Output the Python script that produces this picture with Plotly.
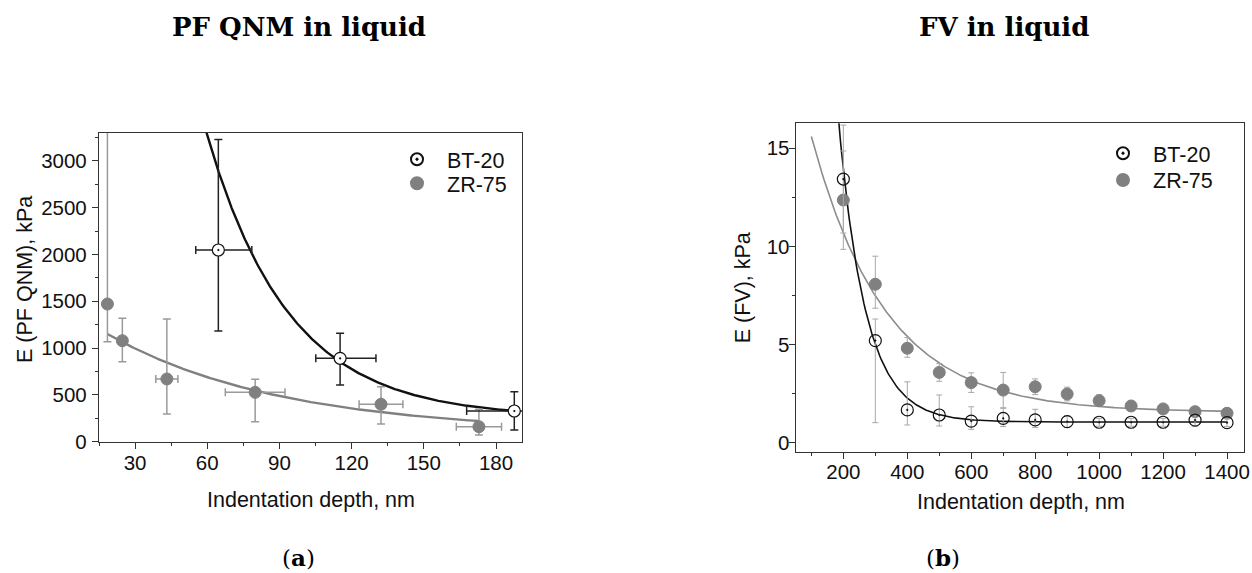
import numpy as np
import plotly.graph_objects as go

W, H = 1252, 573

# ---------------- Panel (a): PF QNM in liquid ----------------
a_bt_x = [64.6, 115.2, 187.6]
a_bt_y = [2048, 891, 328]
a_bt_yerr_plus = [1181, 267, 206]
a_bt_yerr_minus = [864, 285, 203]
a_bt_xerr_plus = [13.9, 14.9, 6.5]
a_bt_xerr_minus = [9.4, 10.1, 19.8]

a_zr_x = [18.5, 24.7, 43.2, 79.9, 132.2, 172.9]
a_zr_y = [1471, 1079, 670, 527, 400, 160]
a_zr_yerr_plus = [1840, 239, 641, 140, 188, 186]
a_zr_yerr_minus = [403, 224, 374, 313, 211, 88]
a_zr_xerr = [0, 0, 4.6, 12.4, 9.1, 9.4]

# exponential decay fits y = y0 + A*exp(-x/t)
a_bt_fit = dict(y0=258, A=17618, t=34.0, x0=55, x1=187.6)
a_zr_fit = dict(y0=97, A=1363, t=72.0, x0=18.5, x1=172.6)

# ---------------- Panel (b): FV in liquid ----------------
b_x = [200, 300, 400, 500, 600, 700, 800, 900, 1000, 1100, 1200, 1300, 1400]
b_bt_y = [13.43, 5.2, 1.67, 1.41, 1.10, 1.24, 1.16, 1.07, 1.04, 1.04, 1.04, 1.15, 1.02]
b_bt_yerr_plus = [2.75, 1.1, 1.43, 1.02, 0.73, 0.51, 0.54, 0.3, 0.2, 0.2, 0.2, 0.3, 0.2]
b_bt_yerr_minus = [2.75, 4.18, 0.77, 0.56, 0.42, 0.42, 0.39, 0.3, 0.2, 0.2, 0.2, 0.3, 0.2]
b_zr_y = [12.36, 8.07, 4.81, 3.58, 3.06, 2.68, 2.85, 2.48, 2.14, 1.87, 1.72, 1.58, 1.50]
b_zr_yerr_plus = [2.5, 1.43, 0.54, 0.45, 0.5, 0.9, 0.4, 0.35, 0.3, 0.25, 0.2, 0.2, 0.2]
b_zr_yerr_minus = [2.51, 1.22, 0.46, 0.45, 0.5, 0.9, 0.4, 0.35, 0.3, 0.25, 0.2, 0.2, 0.2]

b_bt_fit = dict(y0=1.05, A=135.4, t=85.0, x0=170, x1=1400)
b_zr_fit = dict(y0=1.55, A=21.62, t=232.0, x0=100, x1=1400)

series_names = ["BT-20", "ZR-75"]
panel_titles = ["PF QNM in liquid", "FV in liquid"]
panel_labels = ["a", "b"]
x_title = "Indentation depth, nm"
y_titles = ["E (PF QNM), kPa", "E (FV), kPa"]


def fit_curve(p, n=300):
    x = np.linspace(p["x0"], p["x1"], n)
    return x, p["y0"] + p["A"] * np.exp(-x / p["t"])


def px_x(p):
    return p / W


def px_y(p):
    return 1 - p / H


BLACK = "#111111"
GRAY = "#808080"
LGRAY = "#a8a8a8"
AXIS = "#333333"
SANS = "Liberation Sans, Arial, sans-serif"
SERIF = "Palatino Linotype, DejaVu Serif, serif"
TICKSIZE = 20.5

fig = go.Figure()

# ----- panel a -----
x, y = fit_curve(a_bt_fit)
fig.add_trace(go.Scatter(x=x, y=y, mode="lines", line=dict(color=BLACK, width=2.4),
                         showlegend=False, xaxis="x", yaxis="y", hoverinfo="skip"))
x, y = fit_curve(a_zr_fit)
fig.add_trace(go.Scatter(x=x, y=y, mode="lines", line=dict(color=GRAY, width=2.4),
                         showlegend=False, xaxis="x", yaxis="y", hoverinfo="skip"))

fig.add_trace(go.Scatter(
    x=a_zr_x, y=a_zr_y, mode="markers", name=series_names[1],
    marker=dict(symbol="circle", size=12, color=GRAY, line=dict(color=GRAY, width=1)),
    error_y=dict(type="data", symmetric=False, array=a_zr_yerr_plus, arrayminus=a_zr_yerr_minus,
                 color="#9a9a9a", thickness=1.5, width=4),
    error_x=dict(type="data", array=a_zr_xerr, color="#9a9a9a", thickness=1.5, width=4),
    xaxis="x", yaxis="y", legend="legend2"))
fig.add_trace(go.Scatter(
    x=a_bt_x, y=a_bt_y, mode="markers", name=series_names[0],
    marker=dict(symbol="circle-dot", size=12, color="white", line=dict(color=BLACK, width=1.2)),
    error_y=dict(type="data", symmetric=False, array=a_bt_yerr_plus, arrayminus=a_bt_yerr_minus,
                 color="#222222", thickness=1.5, width=4),
    error_x=dict(type="data", symmetric=False, array=a_bt_xerr_plus, arrayminus=a_bt_xerr_minus,
                 color="#222222", thickness=1.5, width=4),
    cliponaxis=False,
    xaxis="x", yaxis="y", legend="legend"))

# ----- panel b -----
x, y = fit_curve(b_zr_fit)
fig.add_trace(go.Scatter(x=x, y=y, mode="lines", line=dict(color="#8c8c8c", width=1.6),
                         showlegend=False, xaxis="x2", yaxis="y2", hoverinfo="skip"))
x, y = fit_curve(b_bt_fit)
fig.add_trace(go.Scatter(x=x, y=y, mode="lines", line=dict(color=BLACK, width=1.6),
                         showlegend=False, xaxis="x2", yaxis="y2", hoverinfo="skip"))

fig.add_trace(go.Scatter(
    x=b_x, y=b_zr_y, mode="markers", name=series_names[1],
    marker=dict(symbol="circle", size=12, color=GRAY, line=dict(color=GRAY, width=1)),
    error_y=dict(type="data", symmetric=False, array=b_zr_yerr_plus, arrayminus=b_zr_yerr_minus,
                 color=LGRAY, thickness=1, width=3),
    xaxis="x2", yaxis="y2", legend="legend4"))
fig.add_trace(go.Scatter(
    x=b_x, y=b_bt_y, mode="markers", name=series_names[0],
    marker=dict(symbol="circle-dot", size=12, color="rgba(255,255,255,0)", line=dict(color=BLACK, width=1.2)),
    error_y=dict(type="data", symmetric=False, array=b_bt_yerr_plus, arrayminus=b_bt_yerr_minus,
                 color=LGRAY, thickness=1, width=3),
    xaxis="x2", yaxis="y2", legend="legend3"))

# ----- axes -----
common = dict(showline=True, mirror=True, linecolor=AXIS, linewidth=1.3, showgrid=False,
              zeroline=False, ticks="outside", ticklen=6, tickwidth=1.2, tickcolor=AXIS,
              automargin=False,
              tickfont=dict(family=SANS, size=TICKSIZE, color="#111"))

legend_font = dict(family=SANS, size=21.5, color="#111")


def leg(xpx, ypx):
    return dict(x=px_x(xpx), y=px_y(ypx), xanchor="left", yanchor="middle",
                font=legend_font, bgcolor="rgba(0,0,0,0)", itemwidth=50,
                itemsizing="constant", borderwidth=0)


fig.update_layout(
    width=W, height=H, autosize=False,
    margin=dict(l=0, r=0, t=0, b=0, pad=0, autoexpand=False),
    paper_bgcolor="white", plot_bgcolor="white",
    xaxis=dict(domain=[px_x(99), px_x(522)], range=[15, 190.8], tick0=0, dtick=30,
               minor=dict(dtick=15, ticklen=3, tickcolor=AXIS, ticks="outside"),
               anchor="y", ticklabelstandoff=-3, **common),
    yaxis=dict(domain=[px_y(441.7), px_y(133)], range=[0, 3298], tick0=0, dtick=500,
               minor=dict(dtick=250, ticklen=3, tickcolor=AXIS, ticks="outside"),
               anchor="x", ticklabelstandoff=1, **common),
    xaxis2=dict(domain=[px_x(795.7), px_x(1244.3)], range=[51, 1454], tick0=0, dtick=200,
                minor=dict(dtick=100, ticklen=3, tickcolor=AXIS, ticks="outside"),
                anchor="y2", ticklabelstandoff=-5, **common),
    yaxis2=dict(domain=[px_y(452.3), px_y(123.3)], range=[-0.49, 16.27], tick0=0, dtick=5,
                minor=dict(dtick=2.5, ticklen=3, tickcolor=AXIS, ticks="outside"),
                anchor="x2", ticklabelstandoff=-5, **common),
    legend=leg(387, 159.3),
    legend2=leg(387, 183.3),
    legend3=leg(1093, 153.3),
    legend4=leg(1093, 180),
)

ann = []
# panel titles
ann.append(dict(text="<b>%s</b>" % panel_titles[0], x=px_x(298.5), y=px_y(27), xref="paper", yref="paper",
                showarrow=False, xanchor="center", yanchor="middle",
                font=dict(family=SERIF, size=26, color="#000")))
ann.append(dict(text="<b>%s</b>" % panel_titles[1], x=px_x(1004), y=px_y(27), xref="paper", yref="paper",
                showarrow=False, xanchor="center", yanchor="middle",
                font=dict(family=SERIF, size=26, color="#000")))
# panel labels
ann.append(dict(text="(<b>%s</b>)" % panel_labels[0], x=px_x(298), y=px_y(557), xref="paper", yref="paper",
                showarrow=False, xanchor="center", yanchor="middle",
                font=dict(family=SERIF, size=23, color="#000")))
ann.append(dict(text="(<b>%s</b>)" % panel_labels[1], x=px_x(943), y=px_y(557), xref="paper", yref="paper",
                showarrow=False, xanchor="center", yanchor="middle",
                font=dict(family=SERIF, size=23, color="#000")))
# axis titles
ann.append(dict(text=x_title, x=px_x(311), y=px_y(500), xref="paper", yref="paper",
                showarrow=False, xanchor="center", yanchor="middle",
                font=dict(family=SANS, size=21.5, color="#111")))
ann.append(dict(text=x_title, x=px_x(1020.5), y=px_y(501.5), xref="paper", yref="paper",
                showarrow=False, xanchor="center", yanchor="middle",
                font=dict(family=SANS, size=21.5, color="#111")))
ann.append(dict(text=y_titles[0], x=px_x(25), y=px_y(280), xref="paper", yref="paper",
                showarrow=False, xanchor="center", yanchor="middle", textangle=-90,
                font=dict(family=SANS, size=21.5, color="#111")))
ann.append(dict(text=y_titles[1], x=px_x(743.3), y=px_y(288), xref="paper", yref="paper",
                showarrow=False, xanchor="center", yanchor="middle", textangle=-90,
                font=dict(family=SANS, size=21.5, color="#111")))
fig.update_layout(annotations=ann)

fig.write_html("out.html", config={"displayModeBar": False},
               post_script="document.body.style.margin='0';")
